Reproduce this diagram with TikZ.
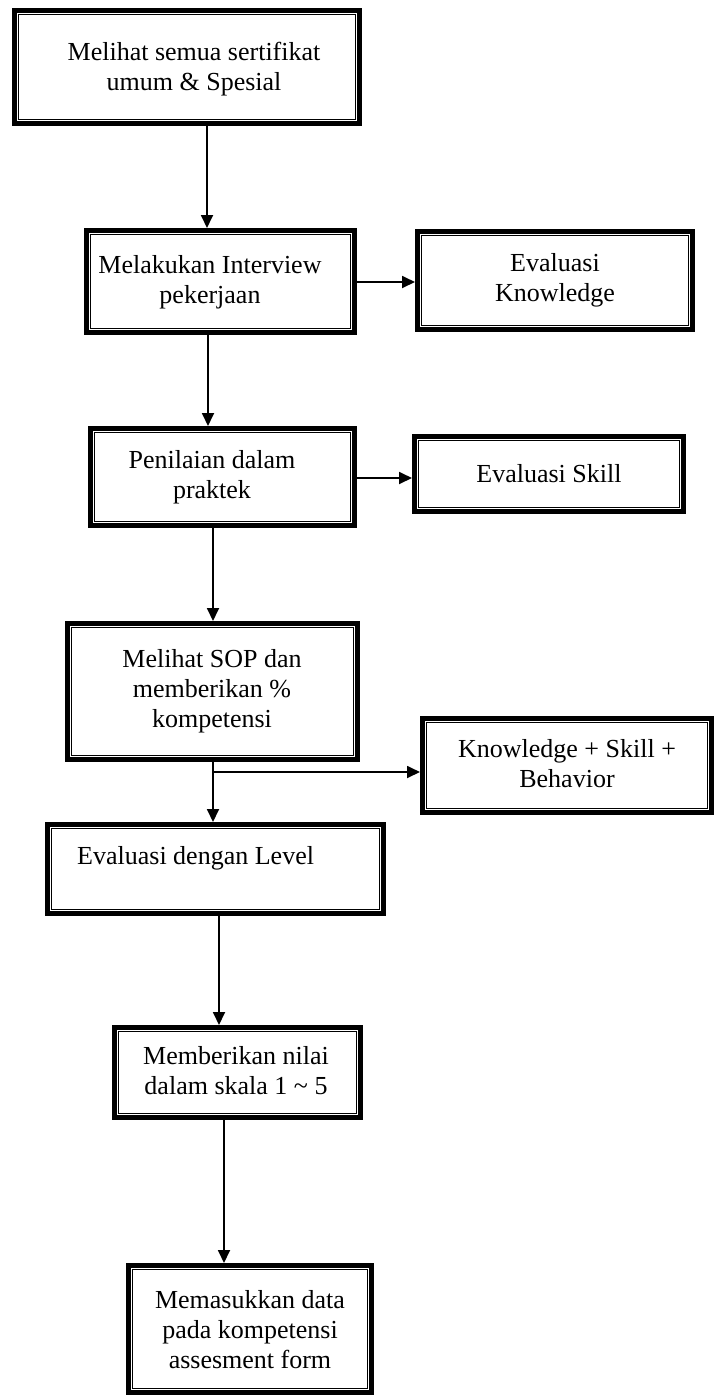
\documentclass[tikz,border=0pt]{standalone}
\usepackage{fontspec}
\setmainfont{Liberation Serif}
\usetikzlibrary{arrows.meta}
\tikzset{
  stepbox/.style={draw, line width=5pt, inner sep=0pt},
  inbox/.style={draw, line width=1.3pt},
  txt/.style={font=\fontsize{26}{30}\selectfont, align=center, inner sep=0pt},
  conn/.style={line width=1.8pt, -{Triangle[length=13pt,width=12pt]}}
}
\newcommand{\boxat}[5]{% name, x1, y1, x2, y2 (px, y down)
  \node[stepbox, minimum width={(#4-#2)*1pt-5pt}, minimum height={(#5-#3)*1pt-5pt}] (#1) at ({(#2+#4)/2},{(#3+#5)/2}) {};
  \draw[inbox] ([shift={(6.5pt,-6.5pt)}]#1.north west) rectangle ([shift={(-6.5pt,6.5pt)}]#1.south east);
}
\begin{document}
\begin{tikzpicture}[x=1pt,y=-1pt]
\useasboundingbox (0,0) rectangle (716,1398);
\boxat{b1}{12}{8}{362}{126}
\node[txt] (t1) at (194,69) {Melihat semua sertifikat\\umum \& Spesial};
\boxat{b2}{84}{228}{357}{335}
\node[txt] (t2) at (210,282) {Melakukan Interview\\pekerjaan};
\boxat{ke}{415}{229}{695}{332}
\node[txt] (t3) at (ke.center) {Evaluasi\\Knowledge};
\boxat{b3}{88}{426}{357}{528}
\node[txt] (t4) at (212,477) {Penilaian dalam\\praktek};
\boxat{es}{412}{434}{686}{514}
\node[txt] (t5) at (es.center) {Evaluasi Skill};
\boxat{b4}{65}{621}{360}{762}
\node[txt] (t6) at (212,691) {Melihat SOP dan\\memberikan \%\\kompetensi};
\boxat{ksb}{420}{716}{714}{815}
\node[txt] (t7) at (567,764) {Knowledge + Skill +\\Behavior};
\boxat{el}{45}{822}{386}{916}
\node[txt, anchor=west] (t8) at (77,858) {Evaluasi dengan Level};
\boxat{b9}{112}{1025}{363}{1120}
\node[txt] (t9) at (236,1071) {Memberikan nilai\\dalam skala 1 \textasciitilde{} 5};
\boxat{b10}{126}{1263}{374}{1395}
\node[txt] (t10) at (250,1330) {Memasukkan data\\pada kompetensi\\assesment form};
% connectors
\draw[conn] (b1.south -| 207,0) -- (b2.north -| 207,0);
\draw[conn] (b2.south -| 208,0) -- (b3.north -| 208,0);
\draw[conn] (b2.east |- 0,282) -- (ke.west |- 0,282);
\draw[conn] (b3.south -| 213,0) -- (b4.north -| 213,0);
\draw[conn] (b3.east |- 0,478) -- (es.west |- 0,478);
\coordinate (br) at (213,772);
\draw[conn] (b4.south -| br) -- (el.north -| br);
\draw[conn] (br) -- (ksb.west |- br);
\draw[conn] (el.south -| 219,0) -- (b9.north -| 219,0);
\draw[conn] (b9.south -| 224,0) -- (b10.north -| 224,0);
\end{tikzpicture}
\end{document}
